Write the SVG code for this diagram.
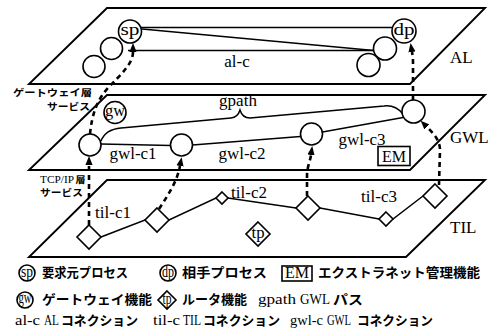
<svg xmlns="http://www.w3.org/2000/svg" width="497" height="328" viewBox="0 0 497 328">
<style>
.plane{fill:none;stroke:#000;stroke-width:1.9}
.ln{fill:none;stroke:#000;stroke-width:1.5}
.dash{fill:none;stroke:#000;stroke-width:2.6;stroke-dasharray:5 4}
.nd{fill:#fff;stroke:#000;stroke-width:1.6}
.t{font-family:"Liberation Serif","Times New Roman",serif;font-size:17px;fill:#000}
.nl{font-family:"Liberation Serif","Times New Roman",serif;font-size:16px;fill:#000;text-anchor:middle}
.jp{font-family:"Noto Sans CJK JP","Noto Sans",sans-serif;font-weight:700;font-size:13px;fill:#000}
.js{font-family:"Noto Sans CJK JP","Noto Sans",sans-serif;font-weight:700;font-size:9.6px;fill:#000}
.lg{font-family:"Liberation Serif","Times New Roman",serif;font-size:14px;fill:#000}
</style>
<defs>
<marker id="ah" viewBox="0 0 10 8" refX="0" refY="4" markerWidth="9" markerHeight="7.5" markerUnits="userSpaceOnUse" orient="auto">
<path d="M0,0 L10,4 L0,8 z" fill="#000" stroke="none"/>
</marker>
</defs>
<rect width="497" height="328" fill="#fff"/>

<g id="planes">
<polygon class="plane" points="107,8 485,8 410,84 29,84"/>
<polygon class="plane" points="107,95 485,95 410,170 29,170"/>
<polygon class="plane" points="107,180 485,180 406,257 29,257"/>
<text class="t" x="450" y="63">AL</text>
<text class="t" x="450" y="143">GWL</text>
<text class="t" x="450" y="233">TIL</text>
</g>

<g id="layer-labels">
<text class="js" x="13" y="95.5" textLength="79" lengthAdjust="spacingAndGlyphs">ゲートウェイ層</text>
<text class="js" x="47" y="109.5" textLength="43" lengthAdjust="spacingAndGlyphs">サービス</text>
<text x="40" y="182.5" font-family="Liberation Serif,serif" font-size="10" textLength="34" lengthAdjust="spacingAndGlyphs">TCP/IP</text>
<text class="js" x="75.5" y="182.5" textLength="10" lengthAdjust="spacingAndGlyphs">層</text>
<text class="js" x="40" y="196" textLength="43" lengthAdjust="spacingAndGlyphs">サービス</text>
</g>

<g id="connectors">
<line class="ln" x1="141" y1="27.5" x2="392" y2="27.5"/>
<line class="ln" x1="142" y1="29" x2="374" y2="50.5"/>
<line class="ln" x1="128" y1="50.5" x2="374" y2="50.5"/>
<line class="ln" x1="101" y1="144" x2="171" y2="145.5"/>
<line class="ln" x1="192.5" y1="145" x2="300.5" y2="136.5"/>
<line class="ln" x1="322.5" y1="132" x2="403" y2="117.5"/>
<path class="ln" d="M101,141 C104,133 110,129 121,128 L231,118 C236,117.5 238.5,115 240,110 C241.5,115 244,118 250,118 L384,106 C392,105 398,108 403,114"/>
<polyline class="ln" points="101,237 145,220 169,220 216,198 228,198 296,208 320,208 379,219 393,219 423,196"/>
<path class="dash" d="M90,134 C92,114 97,100 108,88 C121,74 133,64 133,52" marker-end="url(#ah)"/>
<path class="dash" d="M89,225 L89,165" marker-end="url(#ah)"/>
<path class="dash" d="M159,209 C168,195 177,182 180,166" marker-end="url(#ah)"/>
<path class="dash" d="M307,196 L307,176 C307,167 310,162 311,155" marker-end="url(#ah)"/>
<path class="dash" d="M439,185 L440,150 C440,140 433,133 427,127" marker-end="url(#ah)"/>
<path class="dash" d="M413,100 L413,62 C413,57 412.5,55 412,52" marker-end="url(#ah)"/>
<text class="t" x="237" y="67" text-anchor="middle">al-c</text>
<text class="t" x="238" y="106" text-anchor="middle">gpath</text>
<text class="t" x="133" y="159" text-anchor="middle">gwl-c1</text>
<text class="t" x="242" y="159" text-anchor="middle">gwl-c2</text>
<text class="t" x="362" y="145" text-anchor="middle">gwl-c3</text>
<text class="t" x="113" y="218" text-anchor="middle">til-c1</text>
<text class="t" x="249" y="198" text-anchor="middle">til-c2</text>
<text class="t" x="379" y="202" text-anchor="middle">til-c3</text>
</g>

<g id="sp"><circle class="nd" cx="130" cy="31.5" r="11.5"/><text class="nl" x="130" y="35" textLength="19" lengthAdjust="spacingAndGlyphs">sp</text></g>
<g id="al-n1"><circle class="nd" cx="111.5" cy="48.5" r="11"/></g>
<g id="al-n2"><circle class="nd" cx="94" cy="66.5" r="11"/></g>
<g id="dp"><circle class="nd" cx="404" cy="31" r="12"/><text class="nl" x="404" y="35" textLength="21" lengthAdjust="spacingAndGlyphs">dp</text></g>
<g id="al-n3"><circle class="nd" cx="385" cy="48.5" r="11.5"/></g>
<g id="al-n4"><circle class="nd" cx="368.5" cy="65" r="11.5"/></g>

<g id="gw"><circle class="nd" cx="115" cy="112.5" r="11"/><text class="nl" x="115" y="115.5" textLength="20" lengthAdjust="spacingAndGlyphs">gw</text></g>
<g id="gwl-n1"><circle class="nd" cx="90" cy="145" r="11"/></g>
<g id="gwl-n2"><circle class="nd" cx="181.5" cy="145" r="11"/></g>
<g id="gwl-n3"><circle class="nd" cx="311.5" cy="134" r="11"/></g>
<g id="gwl-n4"><circle class="nd" cx="413.5" cy="111.5" r="11.5"/></g>
<g id="em"><rect class="nd" x="378" y="146.5" width="32" height="19"/><text class="nl" x="394" y="162">EM</text></g>

<g id="til-n1"><polygon class="nd" points="89,225 101,237 89,249 77,237"/></g>
<g id="til-n2"><polygon class="nd" points="157,208 169,220 157,232 145,220"/></g>
<g id="til-n3"><polygon class="nd" points="222,192 228,198 222,204 216,198"/></g>
<g id="til-n4"><polygon class="nd" points="308,196 320,208 308,220 296,208"/></g>
<g id="til-n5"><polygon class="nd" points="386,212 393,219 386,226 379,219"/></g>
<g id="til-n6"><polygon class="nd" points="435,184 447,196 435,208 423,196"/></g>
<g id="tp"><polygon class="nd" points="258,222 270,234 258,246 246,234"/><text class="nl" x="258" y="238" textLength="13" lengthAdjust="spacingAndGlyphs">tp</text></g>

<g id="legend">
<circle class="nd" cx="27" cy="273" r="8" stroke-width="1.3"/><text class="nl" x="27" y="276.5" font-size="11" textLength="12" lengthAdjust="spacingAndGlyphs">sp</text>
<text class="jp" x="42" y="277" textLength="86" lengthAdjust="spacingAndGlyphs">要求元プロセス</text>
<circle class="nd" cx="168" cy="273" r="8" stroke-width="1.3"/><text class="nl" x="168" y="276.5" font-size="11" textLength="12" lengthAdjust="spacingAndGlyphs">dp</text>
<text class="jp" x="182" y="277" textLength="85" lengthAdjust="spacingAndGlyphs">相手プロセス</text>
<rect class="nd" x="282" y="266" width="30" height="15" stroke-width="1.3"/><text class="nl" x="297" y="278" font-size="13">EM</text>
<text class="jp" x="318" y="277" textLength="162" lengthAdjust="spacingAndGlyphs">エクストラネット管理機能</text>

<circle class="nd" cx="25" cy="300" r="8" stroke-width="1.3"/><text class="nl" x="25" y="303" font-size="11" textLength="13" lengthAdjust="spacingAndGlyphs">gw</text>
<text class="jp" x="42" y="304" textLength="110" lengthAdjust="spacingAndGlyphs">ゲートウェイ機能</text>
<polygon class="nd" points="167,291 176,300 167,309 158,300" stroke-width="1.3"/><text class="nl" x="167" y="303.5" font-size="11" textLength="9" lengthAdjust="spacingAndGlyphs">tp</text>
<text class="jp" x="182" y="304" textLength="65" lengthAdjust="spacingAndGlyphs">ルータ機能</text>
<text class="lg" x="258" y="304" textLength="38" lengthAdjust="spacingAndGlyphs">gpath</text>
<text class="lg" x="300" y="304" textLength="30" lengthAdjust="spacingAndGlyphs">GWL</text>
<text class="jp" x="333" y="304" textLength="30" lengthAdjust="spacingAndGlyphs">パス</text>

<text class="lg" x="15" y="325" textLength="25" lengthAdjust="spacingAndGlyphs">al-c</text>
<text class="lg" x="44" y="325" textLength="15" lengthAdjust="spacingAndGlyphs">AL</text>
<text class="jp" x="61" y="325" textLength="77" lengthAdjust="spacingAndGlyphs">コネクション</text>
<text class="lg" x="153" y="325" textLength="27" lengthAdjust="spacingAndGlyphs">til-c</text>
<text class="lg" x="183" y="325" textLength="18" lengthAdjust="spacingAndGlyphs">TIL</text>
<text class="jp" x="203" y="325" textLength="77" lengthAdjust="spacingAndGlyphs">コネクション</text>
<text class="lg" x="290" y="325" textLength="33" lengthAdjust="spacingAndGlyphs">gwl-c</text>
<text class="lg" x="327" y="325" textLength="24" lengthAdjust="spacingAndGlyphs">GWL</text>
<text class="jp" x="357" y="325" textLength="76" lengthAdjust="spacingAndGlyphs">コネクション</text>
</g>
</svg>
